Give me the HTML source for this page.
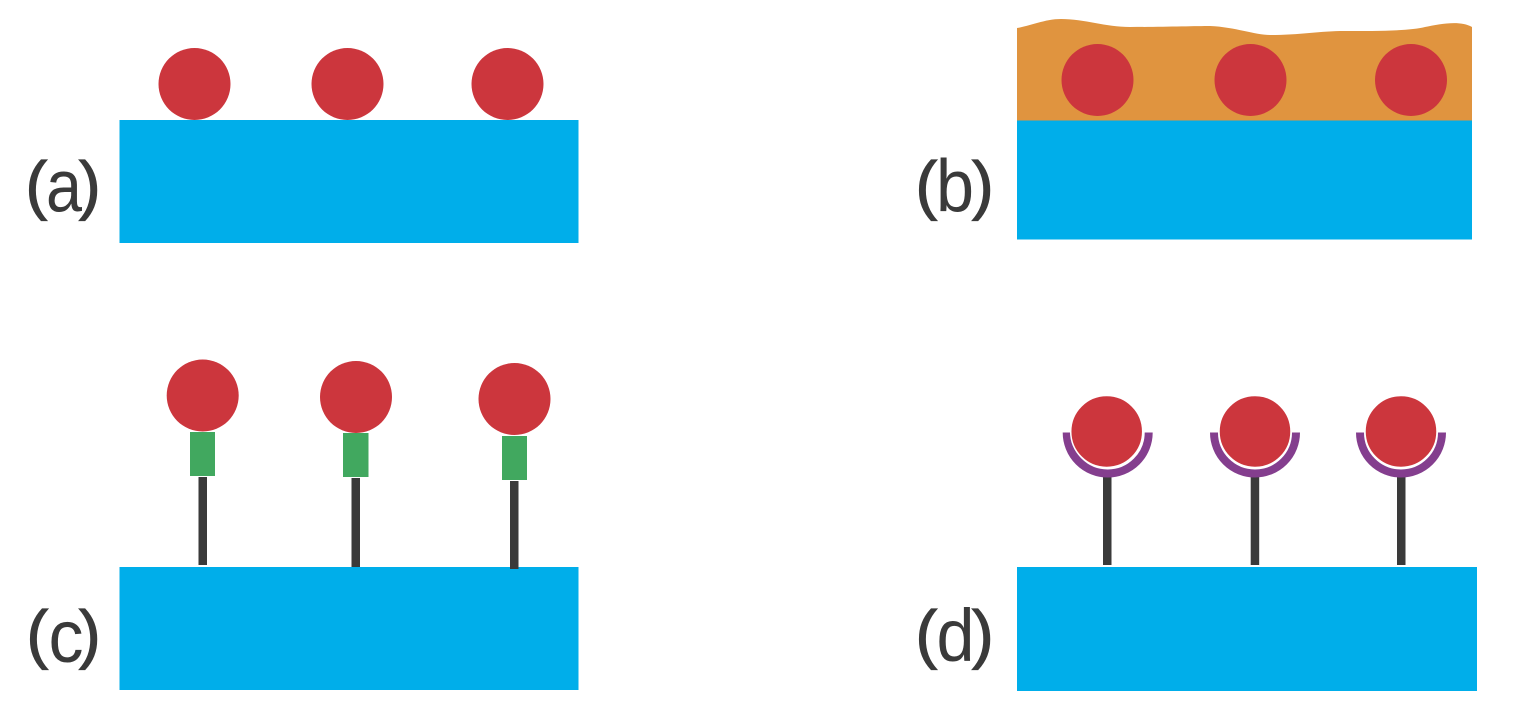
<!DOCTYPE html>
<html>
<head>
<meta charset="utf-8">
<style>
html,body{margin:0;padding:0;background:#fff;}
svg{display:block;}
text{font-family:"Liberation Sans",sans-serif;fill:#3a3a3a;}
.p{stroke:#3a3a3a;stroke-width:1.2;}
</style>
</head>
<body>
<svg width="1521" height="710" viewBox="0 0 1521 710" xmlns="http://www.w3.org/2000/svg">
  <!-- (a) -->
  <rect x="119.5" y="120" width="459" height="123" fill="#00aeea"/>
  <circle cx="194.5" cy="84" r="36" fill="#cc363d"/>
  <circle cx="347.5" cy="84" r="36" fill="#cc363d"/>
  <circle cx="507.5" cy="84" r="36" fill="#cc363d"/>
  <text class="p" x="25.5" y="207" font-size="65">(</text>
  <text x="64" y="211.5" font-size="74" text-anchor="middle" textLength="36" lengthAdjust="spacingAndGlyphs">a</text>
  <text class="p" x="79" y="207" font-size="65">)</text>

  <!-- (b) -->
  <path d="M1017,121 L1017,28 C1030,26 1045,19 1061,19 C1085,19 1105,27 1130,27 C1160,27 1195,26 1210,26 C1235,27 1255,35 1270,35 C1300,35 1320,31 1345,31 C1375,31 1410,31 1425,27 C1440,24 1460,20 1472,27 L1472,121 Z" fill="#e0943f"/>
  <rect x="1017" y="120.5" width="455" height="119" fill="#00aeea"/>
  <circle cx="1097.5" cy="80" r="36" fill="#cc363d"/>
  <circle cx="1250.5" cy="80" r="36" fill="#cc363d"/>
  <circle cx="1411" cy="80" r="36" fill="#cc363d"/>
  <text class="p" x="915.5" y="207" font-size="65">(</text>
  <text x="955" y="211.5" font-size="74" text-anchor="middle" textLength="38" lengthAdjust="spacingAndGlyphs">b</text>
  <text class="p" x="972" y="207" font-size="65">)</text>

  <!-- (c) -->
  <rect x="119.5" y="567" width="459" height="123" fill="#00aeea"/>
  <rect x="198.5" y="477" width="8.5" height="88" fill="#3a3a3a"/>
  <rect x="351.5" y="478" width="8.5" height="89" fill="#3a3a3a"/>
  <rect x="510" y="481" width="8.5" height="88" fill="#3a3a3a"/>
  <rect x="190" y="432" width="25" height="44" fill="#41a85f"/>
  <rect x="343" y="433" width="25.5" height="44" fill="#41a85f"/>
  <rect x="502" y="436" width="25" height="44" fill="#41a85f"/>
  <circle cx="202.7" cy="395.5" r="36" fill="#cc363d"/>
  <circle cx="356" cy="397" r="36" fill="#cc363d"/>
  <circle cx="514.5" cy="399" r="36" fill="#cc363d"/>
  <text class="p" x="26.5" y="656" font-size="65">(</text>
  <text x="66" y="662" font-size="74" text-anchor="middle" textLength="35" lengthAdjust="spacingAndGlyphs">c</text>
  <text class="p" x="79" y="656" font-size="65">)</text>

  <!-- (d) -->
  <rect x="1017" y="567" width="460" height="124" fill="#00aeea"/>
  <rect x="1103" y="476" width="8.5" height="89" fill="#3a3a3a"/>
  <rect x="1250.7" y="476" width="8.5" height="89" fill="#3a3a3a"/>
  <rect x="1397" y="476" width="8.5" height="89" fill="#3a3a3a"/>
  <g fill="none" stroke="#843e8e" stroke-width="8">
    <path d="M1066.7,432.5 A41 41 0 0 0 1148.7,432.5"/>
    <path d="M1214,432.5 A41 41 0 0 0 1296,432.5"/>
    <path d="M1360,432.5 A41 41 0 0 0 1442,432.5"/>
  </g>
  <g fill="#cc363d" stroke="#ffffff" stroke-width="1.5">
    <circle cx="1106.7" cy="431.5" r="36"/>
    <circle cx="1255" cy="431.5" r="36"/>
    <circle cx="1401" cy="431.5" r="36"/>
  </g>
  <text class="p" x="915.5" y="656" font-size="65">(</text>
  <text x="955.5" y="661" font-size="74" text-anchor="middle" textLength="38" lengthAdjust="spacingAndGlyphs">d</text>
  <text class="p" x="972" y="656" font-size="65">)</text>
</svg>
</body>
</html>
